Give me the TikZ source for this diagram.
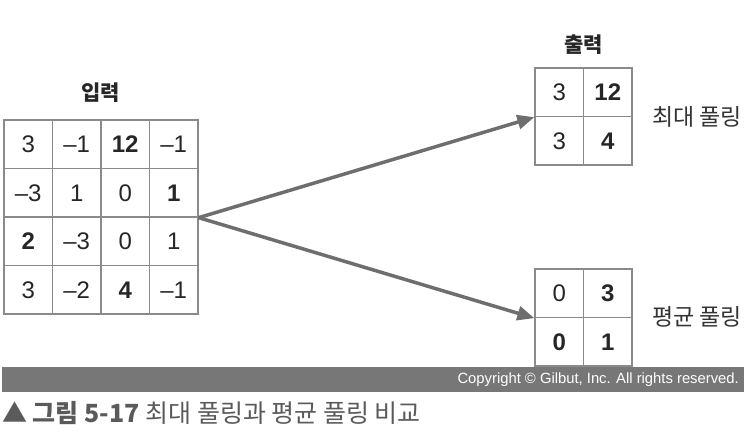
\documentclass[tikz,border=0pt]{standalone}
\usepackage{fontspec}
\setmainfont{Liberation Sans}
\newfontfamily\kr{Noto Sans CJK KR}
\usetikzlibrary{arrows.meta}
\definecolor{gridc}{HTML}{8A8A8A}
\definecolor{arrowc}{HTML}{6E6E6E}
\definecolor{barc}{HTML}{777777}
\definecolor{capc}{HTML}{5A5A5A}
\begin{document}
\begin{tikzpicture}[x=1pt,y=-1pt,
  cell/.style={draw=gridc,line width=1.3pt,minimum size=48.5pt,inner sep=0pt,
    font=\fontsize{24}{24}\selectfont,text=black!85},
  bnum/.style={font=\fontsize{24}{24}\selectfont\bfseries},
  title/.style={font=\kr\fontsize{21}{21}\selectfont\bfseries,text=black!85},
  lab/.style={font=\kr\fontsize{23}{23}\selectfont,text=black!80,anchor=west,inner sep=0pt},
  conn/.style={draw=arrowc,line width=3.5pt,-{Triangle[length=17pt,width=14pt]}}
]
\useasboundingbox (0,0) rectangle (744,434);
% input grid
\node[cell] (a11) at (28.25,144.25) {3};
\node[cell] (a12) at (76.75,144.25) {\textendash1};
\node[cell,bnum] (a13) at (125.25,144.25) {12};
\node[cell] (a14) at (173.75,144.25) {\textendash1};
\node[cell] (a21) at (28.25,192.75) {\textendash3};
\node[cell] (a22) at (76.75,192.75) {1};
\node[cell] (a23) at (125.25,192.75) {0};
\node[cell,bnum] (a24) at (173.75,192.75) {1};
\node[cell,bnum] (a31) at (28.25,241.25) {2};
\node[cell] (a32) at (76.75,241.25) {\textendash3};
\node[cell] (a33) at (125.25,241.25) {0};
\node[cell] (a34) at (173.75,241.25) {1};
\node[cell] (a41) at (28.25,289.75) {3};
\node[cell] (a42) at (76.75,289.75) {\textendash2};
\node[cell,bnum] (a43) at (125.25,289.75) {4};
\node[cell] (a44) at (173.75,289.75) {\textendash1};
\coordinate (src) at (a24.south east);
\node[title] (tin) at (100.5,93) {입력};
% max pooling
\node[cell] (m11) at (559.25,92.25) {3};
\node[cell,bnum] (m12) at (607.75,92.25) {12};
\node[cell] (m21) at (559.25,140.75) {3};
\node[cell,bnum] (m22) at (607.75,140.75) {4};
\coordinate (mdst) at (m11.south west);
\node[title] (tout) at (583.5,45) {출력};
\node[lab] (lmax) at (652,117) {최대 풀링};
% average pooling
\node[cell] (v11) at (559.25,293.25) {0};
\node[cell,bnum] (v12) at (607.75,293.25) {3};
\node[cell,bnum] (v21) at (559.25,341.75) {0};
\node[cell,bnum] (v22) at (607.75,341.75) {1};
\coordinate (vdst) at (v11.south west);
\node[lab] (lavg) at (652,317) {평균 풀링};
% arrows
\draw[conn] (src) -- (mdst);
\draw[conn] (src) -- (vdst);
% bar
\fill[barc] (2,367) rectangle (744,392);
\node[anchor=east,text=white,font=\fontsize{14.8}{14.8}\selectfont,inner sep=0pt] (copy) at (739,380) {Copyright © Gilbut, Inc. All rights reserved.};
\node[anchor=west,inner sep=0pt,text=capc,font=\kr\fontsize{25}{25}\selectfont] (cap) at (2,413)
  {\textbf{▲ 그림 5-17} 최대 풀링과 평균 풀링 비교};
\end{tikzpicture}
\end{document}
